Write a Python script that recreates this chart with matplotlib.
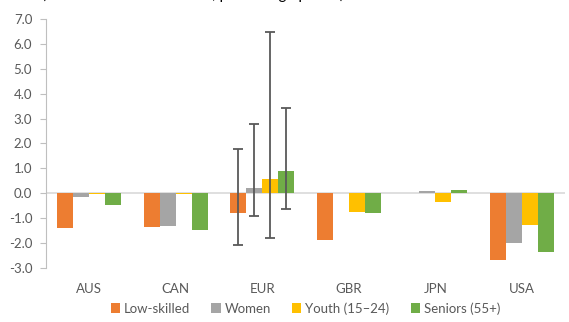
import numpy as np
import matplotlib
matplotlib.use("Agg")
import matplotlib.pyplot as plt

plt.rcParams["font.family"] = ["Lato", "DejaVu Sans"]

# ── Data ──────────────────────────────────────────────────────────────────────
countries = ["AUS", "CAN", "EUR", "GBR", "JPN", "USA"]
series = ["Low-skilled", "Women", "Youth (15\u201324)", "Seniors (55+)"]

low_skilled = [-1.39, -1.37, -0.80, -1.86, 0.00, -2.69]
women       = [-0.16, -1.30,  0.20,  0.00, 0.08, -2.00]
youth       = [-0.03, -0.05,  0.58, -0.74, -0.37, -1.29]
seniors     = [-0.47, -1.46,  0.88, -0.80, 0.11, -2.38]

# range bounds, EUR only
eur_low  = [-2.06, -0.91, -1.80, -0.62]
eur_high = [ 1.79,  2.78,  6.48,  3.44]

colors = ["#ED7D31", "#A5A5A5", "#FFC000", "#70AD47"]
TEXT = "#595959"

# ── Plot ──────────────────────────────────────────────────────────────────────
fig = plt.figure(figsize=(5.69, 3.22), dpi=100)
ax = fig.add_axes([0.081, 0.168, 0.912, 0.773])

x = np.arange(len(countries))
w = 0.185
values = [low_skilled, women, youth, seniors]
eur = countries.index("EUR")

for i, (name, vals, c) in enumerate(zip(series, values, colors)):
    pos = x + (i - 1.5) * w
    ax.bar(pos, vals, width=w, color=c, label=name, zorder=2)
    v = vals[eur]
    ax.errorbar(pos[eur], v, yerr=[[v - eur_low[i]], [eur_high[i] - v]],
                fmt="none", ecolor="#595959", elinewidth=1.3,
                capsize=3.5, capthick=1.3, zorder=3)

ax.axhline(0, color="#D9D9D9", lw=1.2, zorder=1)

ax.set_ylim(-3, 7)
ax.set_xlim(-0.5, len(countries) - 0.5)
ax.set_yticks(np.arange(-3, 8, 1))
ax.set_yticklabels([f"{t:.1f}" for t in np.arange(-3, 8, 1)])
ax.set_xticks(x)
ax.set_xticklabels(countries)

for s in ("top", "right", "bottom"):
    ax.spines[s].set_visible(False)
ax.spines["left"].set_color("#BFBFBF")
ax.tick_params(axis="y", colors="#BFBFBF", labelcolor=TEXT, length=4,
               labelsize=9.5, pad=6)
ax.tick_params(axis="x", length=0, labelcolor=TEXT, labelsize=9.5, pad=11)

ax.legend(loc="upper center", bbox_to_anchor=(0.5, -0.09), ncol=4,
          frameon=False, fontsize=9.5, handlelength=0.7, handleheight=0.7,
          handletextpad=0.3, columnspacing=1.6, labelcolor=TEXT)

# heading line sits mostly above the canvas
fig.text(0.074, 1 + 0.5 / 322, "(Difference from baseline, percentage points)",
         fontsize=11, va="baseline", ha="left", color="black")

fig.savefig("out.png", dpi=100)
